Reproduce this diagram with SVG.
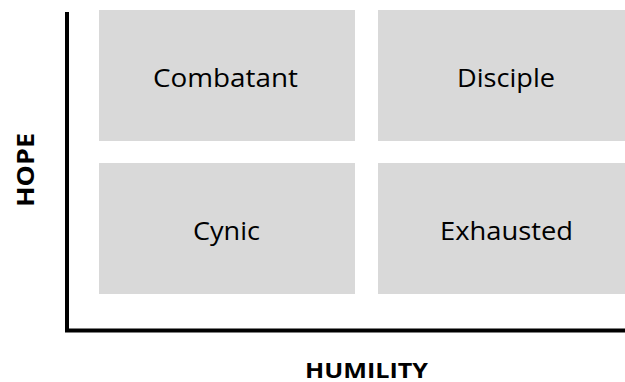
<svg xmlns="http://www.w3.org/2000/svg" width="625" height="382" viewBox="0 0 625 382">
<style>
.box{fill:#d9d9d9}
.lbl{font-family:"Open Sans","Liberation Sans",sans-serif;font-size:25px;fill:#000;text-anchor:middle}
.ax{font-family:"Open Sans","Liberation Sans",sans-serif;font-weight:bold;fill:#000;text-anchor:middle}
.axis{stroke:#000;stroke-width:4;fill:none}
</style>
<rect width="625" height="382" fill="#fff"/>
<g id="combatant"><rect class="box" x="99" y="10" width="256" height="131"/><text class="lbl" x="225.5" y="87" textLength="145" lengthAdjust="spacingAndGlyphs">Combatant</text></g>
<g id="disciple"><rect class="box" x="378" y="10" width="256" height="131"/><text class="lbl" x="506" y="87" textLength="98" lengthAdjust="spacingAndGlyphs">Disciple</text></g>
<g id="cynic"><rect class="box" x="99" y="163" width="256" height="131"/><text class="lbl" x="226.5" y="240" textLength="67" lengthAdjust="spacingAndGlyphs">Cynic</text></g>
<g id="exhausted"><rect class="box" x="378" y="163" width="256" height="131"/><text class="lbl" x="506.5" y="240" textLength="133" lengthAdjust="spacingAndGlyphs">Exhausted</text></g>
<g id="axes"><path class="axis" d="M67 12 V330.5 H625"/></g>
<g id="humility"><text class="ax" x="366.5" y="378" font-size="22" textLength="123" lengthAdjust="spacingAndGlyphs">HUMILITY</text></g>
<g id="hope"><text class="ax" transform="translate(33.5 170) rotate(-90)" x="0" y="0" font-size="24" textLength="74" lengthAdjust="spacingAndGlyphs">HOPE</text></g>
</svg>
